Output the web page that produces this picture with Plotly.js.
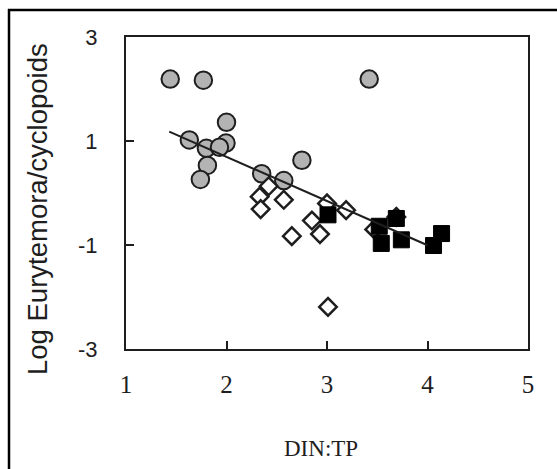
<!DOCTYPE html>
<html>
<head>
<meta charset="utf-8">
<script src="https://cdn.plot.ly/plotly-3.0.1.min.js"></script>
<style>
html, body { margin: 0; padding: 0; background: #fff; }
#chart { width: 557px; height: 469px; }
</style>
</head>
<body>
<div id="chart"></div>
<script>
// Grey circles
var circlesX = [1.44, 1.77, 3.42, 2.00, 1.63, 1.80, 1.995, 1.93, 1.81, 1.74, 2.35, 2.57, 2.75];
var circlesY = [2.19, 2.17, 2.19, 1.36, 1.02, 0.86, 0.96, 0.88, 0.53, 0.26, 0.37, 0.24, 0.63];
// Open diamonds
var diamondsX = [2.42, 2.33, 2.34, 2.57, 3.00, 3.19, 2.85, 2.93, 2.65, 3.01, 3.69, 3.47];
var diamondsY = [0.13, -0.07, -0.31, -0.13, -0.20, -0.33, -0.53, -0.79, -0.83, -2.19, -0.46, -0.70];
// Black squares
var squaresX = [3.01, 3.52, 3.69, 3.54, 3.74, 4.06, 4.14];
var squaresY = [-0.42, -0.64, -0.49, -0.97, -0.90, -1.01, -0.78];
// Regression line
var fitX = [1.43, 4.0];
var fitSlope = -0.85;
var fitIntercept = 2.395;
var fitY = fitX.map(function (x) { return fitIntercept + fitSlope * x; });

var xTicks = [1, 2, 3, 4, 5];
var yTicks = [3, 1, -1, -3];
var xTitle = 'DIN:TP';
var yTitle = 'Log Eurytemora/cyclopoids';

var ink = '#1e1e1e';
var traces = [
  { x: circlesX, y: circlesY, type: 'scatter', mode: 'markers', hoverinfo: 'none',
    marker: { symbol: 'circle', size: 17.5, color: '#b3b3b3', line: { color: ink, width: 2 } } },
  { x: diamondsX, y: diamondsY, type: 'scatter', mode: 'markers', hoverinfo: 'none',
    marker: { symbol: 'diamond', size: 13.5, color: '#ffffff', line: { color: ink, width: 2.5 } } },
  { x: squaresX, y: squaresY, type: 'scatter', mode: 'markers', hoverinfo: 'none',
    marker: { symbol: 'square', size: 16, color: '#000000', line: { color: '#000000', width: 1 } } },
  { x: fitX, y: fitY, type: 'scatter', mode: 'lines', hoverinfo: 'none',
    line: { color: ink, width: 2 } }
];

var W = 557, H = 469, L = 126, R = 29, T = 37, B = 120;
var pw = W - L - R, ph = H - T - B;
function px2x(p) { return (p - L) / pw; }
function py2y(p) { return (H - B - p) / ph; }

var layout = {
  width: W, height: H,
  margin: { l: L, r: R, t: T, b: B, pad: 0 },
  paper_bgcolor: '#ffffff', plot_bgcolor: '#ffffff',
  showlegend: false,
  xaxis: {
    range: [1, 5], tickvals: xTicks, ticktext: xTicks.map(String),
    showgrid: false, zeroline: false,
    showline: true, linecolor: ink, linewidth: 2, mirror: true,
    ticks: 'inside', ticklen: 8, tickwidth: 2, tickcolor: ink,
    ticklabelstandoff: 12,
    tickfont: { family: 'Liberation Serif, DejaVu Serif, serif', size: 25, color: ink }
  },
  yaxis: {
    range: [-3, 3], tickvals: yTicks, ticktext: yTicks.map(String),
    showgrid: false, zeroline: false,
    showline: true, linecolor: ink, linewidth: 2, mirror: true,
    ticks: 'inside', ticklen: 8, tickwidth: 2, tickcolor: ink,
    ticklabelstandoff: 22,
    tickfont: { family: 'Liberation Sans, Arial, sans-serif', size: 22, color: ink }
  },
  annotations: [
    { text: yTitle, xref: 'paper', yref: 'paper', x: px2x(37), y: py2y(209),
      xanchor: 'center', yanchor: 'middle', textangle: -90, showarrow: false,
      font: { family: 'Liberation Sans, Arial, sans-serif', size: 27.5, color: ink } },
    { text: xTitle, xref: 'paper', yref: 'paper', x: px2x(321), y: py2y(448),
      xanchor: 'center', yanchor: 'middle', showarrow: false,
      font: { family: 'Liberation Serif, DejaVu Serif, serif', size: 23, color: ink } }
  ],
  shapes: [
    { type: 'line', xref: 'paper', yref: 'paper', x0: px2x(9), x1: px2x(9), y0: py2y(9), y1: py2y(480),
      line: { color: '#000', width: 2.5 } },
    { type: 'line', xref: 'paper', yref: 'paper', x0: px2x(8), x1: px2x(570), y0: py2y(10), y1: py2y(10),
      line: { color: '#000', width: 2.5 } }
  ]
};

Plotly.newPlot('chart', traces, layout, { staticPlot: true, displayModeBar: false });
</script>
</body>
</html>
